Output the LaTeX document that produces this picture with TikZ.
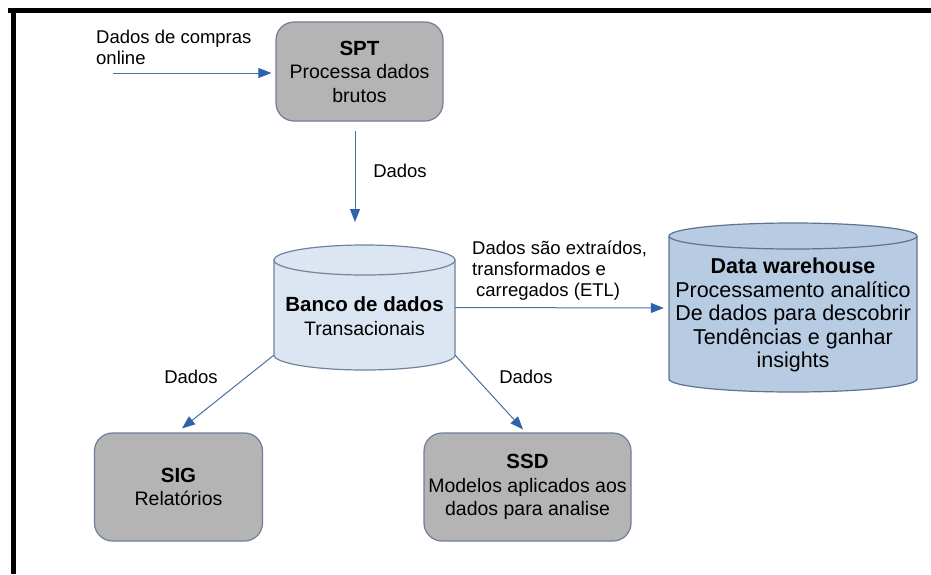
\documentclass[tikz,border=0pt]{standalone}
\usepackage{fontspec}
\setmainfont{Liberation Sans}
\usetikzlibrary{arrows.meta}
\definecolor{boxgray}{HTML}{B4B4B4}
\definecolor{boxline}{HTML}{6E7F99}
\definecolor{dbfill}{HTML}{DCE6F2}
\definecolor{dbline}{HTML}{71839D}
\definecolor{dwfill}{HTML}{B7CBE3}
\definecolor{dwline}{HTML}{5E7392}
\definecolor{arrline}{HTML}{4A70A6}
\definecolor{arrhead}{HTML}{2E63A9}
\newcommand{\bigbf}[1]{{\fontsize{20.5}{23.5}\selectfont\bfseries #1}}
\tikzset{
  grbox/.style={draw=boxline, fill=boxgray, line width=1.2pt, rounded corners=18pt, align=center, inner sep=0pt, font=\fontsize{19.5}{23.5}\selectfont},
  arr/.style={draw=arrline, line width=1pt, -{Triangle[length=13pt,width=10pt,color=arrhead]}},
  lbl/.style={align=left, inner sep=0pt, font=\fontsize{18.5}{21}\selectfont},
  ghost/.style={inner sep=0pt, draw=none}
}
\begin{document}
\begin{tikzpicture}[x=1pt,y=-1pt]
\useasboundingbox (0,0) rectangle (931,574);
\fill[white] (0,0) rectangle (931,574);
% frame
\draw[line width=5pt] (8,10.5) -- (931,10.5);
\draw[line width=4.5pt] (13.3,8) -- (13.3,574);

% boxes
\node[grbox, minimum width=167pt, minimum height=99pt] (spt) at (359.5,71.5) {\bigbf{SPT}\\Processa dados\\brutos};
\node[grbox, minimum width=168pt, minimum height=108pt] (sig) at (178.5,487) {\bigbf{SIG}\\Relatórios};
\node[grbox, minimum width=207pt, minimum height=108pt] (ssd) at (527.5,487) {\bigbf{SSD}\\Modelos aplicados aos\\dados para analise};

% database cylinder
\path[draw=dbline, fill=dbfill, line width=1.2pt] (274,260) -- (274,355)
  arc[start angle=180, end angle=360, x radius=90.5pt, y radius=15pt] -- (455,260)
  arc[start angle=0, end angle=180, x radius=90.5pt, y radius=15pt] -- cycle;
\draw[dbline, line width=1.2pt] (274,260) arc[start angle=180, end angle=360, x radius=90.5pt, y radius=15pt];
\node[ghost, minimum width=181pt, minimum height=95pt] (db) at (364.5,307.5) {};
\node[align=center, inner sep=0pt, font=\fontsize{19.5}{23.5}\selectfont] (dbtext) at (364.5,316) {\bigbf{Banco de dados}\\Transacionais};

% data warehouse cylinder
\path[draw=dwline, fill=dwfill, line width=1.2pt] (669,236) -- (669,379)
  arc[start angle=180, end angle=360, x radius=124pt, y radius=13pt] -- (917,236)
  arc[start angle=0, end angle=180, x radius=124pt, y radius=13pt] -- cycle;
\draw[dwline, line width=1.2pt] (669,236) arc[start angle=180, end angle=360, x radius=124pt, y radius=13pt];
\node[ghost, minimum width=248pt, minimum height=143pt] (dw) at (793,308) {};
\node[align=center, inner sep=0pt, font=\fontsize{21.5}{23.5}\selectfont] (dwtext) at (793,315) {\textbf{Data warehouse}\\Processamento analítico\\De dados para descobrir\\Tendências e ganhar\\insights};

% connectors
\coordinate (inp) at (113,73);
\coordinate (dbin) at (355,222);
\draw[arr] (inp) -- ([xshift=-4pt,yshift=-1.5pt]spt.west);
\draw[arr] ([xshift=-4.5pt,yshift=-9pt]spt.south) -- (dbin);
\draw[arr] (db.east) -- ([xshift=-5pt]dw.west);
\draw[arr] (db.south west) -- ([xshift=3.5pt,yshift=4pt]sig.north);
\draw[arr] (db.south east) -- ([xshift=-4.5pt,yshift=3pt]ssd.north);

% labels
\node[lbl, anchor=west] (lin) at (96,47.5) {Dados de compras\\online};
\node[lbl] (l1) at (400,171) {Dados};
\node[lbl] (l2) at (191,377) {Dados};
\node[lbl] (l3) at (526,377) {Dados};
\node[lbl, anchor=west] (letl) at (472,271) {Dados são extraídos,\\transformados e\\\hspace*{4pt}carregados (ETL)};
\end{tikzpicture}
\end{document}
